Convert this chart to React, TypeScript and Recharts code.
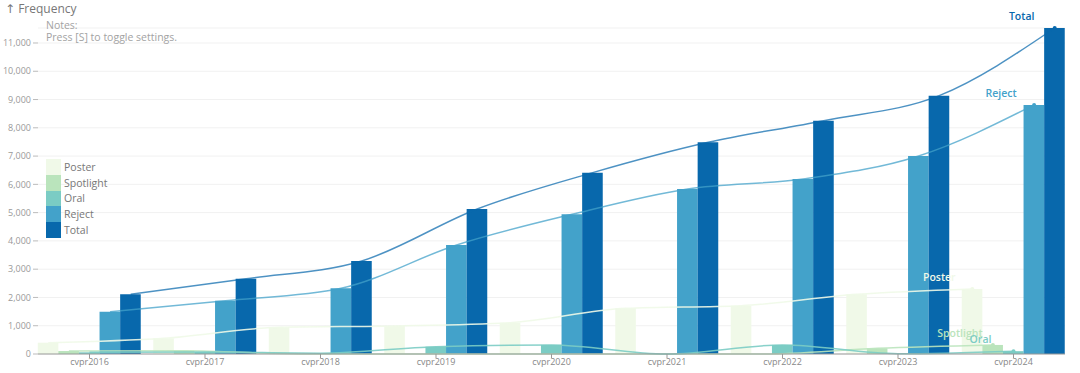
import React from "react";
import {
  ComposedChart,
  Bar,
  Line,
  XAxis,
  YAxis,
  CartesianGrid,
} from "recharts";

// values
const categories = [
  "cvpr2016", "cvpr2017", "cvpr2018", "cvpr2019", "cvpr2020",
  "cvpr2021", "cvpr2022", "cvpr2023", "cvpr2024",
];
const poster = [400, 555, 943, 990, 1107, 1615, 1710, 2110, 2300];
const spotlight = [105, 115, 0, 0, 0, 0, 0, 200, 320];
const oral = [60, 70, 30, 260, 320, 0, 320, 10, 100];
const reject = [1497, 1886, 2323, 3856, 4941, 5837, 6190, 7004, 8810];
const total = [2112, 2664, 3290, 5129, 6414, 7487, 8253, 9138, 11530];
const yTicks = [0, 1000, 2000, 3000, 4000, 5000, 6000, 7000, 8000, 9000, 10000, 11000];

const series = [
  { key: "Poster", color: "#f0f9e8", lineOpacity: 0.9 },
  { key: "Spotlight", color: "#bae4bc", lineOpacity: 0.9 },
  { key: "Oral", color: "#7bccc4", lineOpacity: 0.9 },
  { key: "Reject", color: "#43a2ca", lineOpacity: 0.75 },
  { key: "Total", color: "#0868ac", lineOpacity: 0.72 },
];

const data = categories.map((name, i) => ({
  name,
  Poster: poster[i],
  Spotlight: spotlight[i],
  Oral: oral[i],
  Reject: reject[i],
  Total: total[i],
}));

const last = categories.length - 1;
const BAR = 20.6;
const EDGE = -6.25; // bars start right at the axis ends

const font = "'Open Sans', 'DejaVu Sans', sans-serif";

function endDot(color: string) {
  return (p: any) =>
    p.index === last ? (
      <circle key={p.key} cx={p.cx} cy={p.cy} r={2} fill={color} />
    ) : (
      <g key={p.key} />
    );
}

function endLabel(name: string, color: string) {
  return (p: any) =>
    p.index === last ? (
      <text
        key={`lbl-${name}`}
        x={p.x - 33}
        y={p.y - 11}
        textAnchor="middle"
        dominantBaseline="middle"
        fontSize={10.5}
        fontWeight={600}
        fontFamily={font}
        fill={color}
      >
        {name}
      </text>
    ) : (
      <g key={`lbl-${name}-${p.index}`} />
    );
}

export default function App() {
  return (
    <div style={{ position: "relative", width: 1080, height: 373, fontFamily: font, background: "#fff" }}>
      <style>{"body{margin:0}"}</style>
      <ComposedChart
        width={1080}
        height={373}
        data={data}
        margin={{ top: 28, right: 15, bottom: 0, left: 0 }}
        barGap={0}
        barSize={BAR}
      >
        <CartesianGrid vertical={false} stroke="#f1f1f1" xAxisId="a-main" />
        <XAxis
          dataKey="name"
          xAxisId="a-main"
          padding={{ left: EDGE, right: EDGE }}
          height={19}
          axisLine={{ stroke: "#999" }}
          tickLine={{ stroke: "#999" }}
          tickSize={4}
          tickMargin={1}
          tick={{ fontSize: 9, fill: "#888", fontFamily: font }}
          interval={0}
        />
        {series.map((s, k) => {
          const off = (k - 2) * BAR;
          return (
            <XAxis
              key={s.key}
              dataKey="name"
              xAxisId={`line-${s.key}`}
              padding={{ left: EDGE + off, right: EDGE - off }}
              height={0}
              hide
            />
          );
        })}
        <YAxis
          width={38}
          domain={[0, Math.max(...total)]}
          ticks={yTicks}
          axisLine={false}
          tickLine={{ stroke: "#bbb" }}
          tickSize={5}
          tickMargin={2}
          tick={{ fontSize: 9, fill: "#999", fontFamily: font }}
          tickFormatter={(v: number) => v.toLocaleString("en-US")}
        />
        {series.map((s) => (
          <Bar
            key={s.key}
            xAxisId="a-main"
            dataKey={s.key}
            fill={s.color}
            isAnimationActive={false}
          />
        ))}
        {series.map((s) => (
          <Line
            key={s.key}
            xAxisId={`line-${s.key}`}
            dataKey={s.key}
            type="monotone"
            stroke={s.color}
            strokeOpacity={s.lineOpacity}
            strokeWidth={1.5}
            dot={endDot(s.color)}
            activeDot={false}
            label={endLabel(s.key, s.color)}
            isAnimationActive={false}
          />
        ))}
      </ComposedChart>

      <div style={{ position: "absolute", left: 5, top: 0, fontSize: 12, color: "#777" }}>
        ↑ Frequency
      </div>
      <div style={{ position: "absolute", left: 46, top: 19, fontSize: 10.5, lineHeight: "12px", color: "#a3a3a3" }}>
        Notes:
        <br />
        Press [S] to toggle settings.
      </div>

      <div style={{ position: "absolute", left: 46, top: 159 }}>
        {series.map((s) => (
          <div key={s.key} style={{ display: "flex", alignItems: "center", height: 15.8 }}>
            <div style={{ width: 15, height: 15.8, background: s.color }} />
            <span style={{ marginLeft: 3, fontSize: 10.5, color: "#777" }}>{s.key}</span>
          </div>
        ))}
      </div>
    </div>
  );
}
